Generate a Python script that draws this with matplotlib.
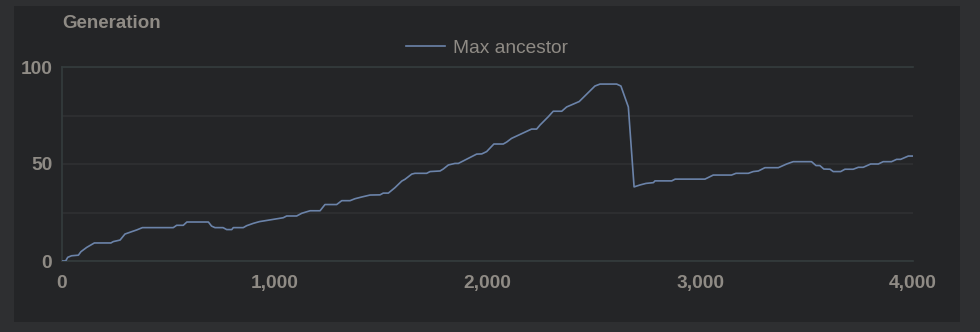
import matplotlib
matplotlib.use("Agg")
import matplotlib.pyplot as plt
from matplotlib.patches import Rectangle
from matplotlib.ticker import FuncFormatter, MultipleLocator

# ---- data ----
steps = [0, 17, 27, 45, 77, 89, 116, 152, 230, 241, 273, 296, 327, 351, 378,
         523, 539, 570, 587, 688, 703, 719, 757, 774, 798, 805, 852, 868, 899,
         928, 962, 1001, 1040, 1056, 1103, 1127, 1166, 1213, 1236, 1291, 1315,
         1354, 1377, 1409, 1448, 1495, 1510, 1534, 1565, 1597, 1612, 1644, 1659,
         1714, 1730, 1777, 1792, 1816, 1847, 1863, 1949, 1973, 1996, 2030, 2074,
         2090, 2113, 2207, 2231, 2247, 2286, 2309, 2349, 2372, 2431, 2505, 2529,
         2607, 2627, 2662, 2689, 2717, 2745, 2780, 2787, 2866, 2882, 3022, 3061,
         3147, 3168, 3226, 3249, 3273, 3304, 3367, 3406, 3437, 3523, 3544, 3562,
         3581, 3610, 3625, 3660, 3680, 3719, 3743, 3766, 3801, 3837, 3860, 3899,
         3923, 3942, 3978, 4001]
max_ancestor = [0, 0, 1.9, 2.7, 3, 4.8, 7, 9.3, 9.3, 10, 10.8, 13.9, 15.1, 16,
                17.2, 17.2, 18.4, 18.4, 20.1, 20.1, 18, 17.2, 17.2, 16.2, 16.2,
                17.2, 17.2, 18.2, 19.4, 20.3, 20.9, 21.6, 22.3, 23.2, 23.2, 24.6,
                25.9, 25.9, 29.1, 29.1, 31.1, 31.1, 32.1, 33, 34, 34.1, 35, 35,
                37.8, 41.2, 42.1, 44.8, 45.2, 45.2, 46.1, 46.4, 47.4, 49.5, 50.3,
                50.3, 55.1, 55.2, 56.4, 60.3, 60.3, 61.3, 63.2, 68, 68, 70.1, 74.4,
                77.2, 77.2, 79.4, 82.2, 90.2, 91.2, 91.2, 90.2, 79.4, 38.2, 39.2,
                40, 40.4, 41.3, 41.3, 42.2, 42.2, 44.3, 44.3, 45.2, 45.2, 46.1,
                46.4, 48.1, 48.1, 50, 51.2, 51.2, 49.2, 49.2, 47.4, 47.3, 46.1,
                46.1, 47.3, 47.3, 48.3, 48.3, 50, 50, 51.2, 51.2, 52.4, 52.4, 54.1,
                54.1]
series_label = "Max ancestor"
y_title = "Generation"
x_ticks = [0, 1000, 2000, 3000, 4000]
y_ticks = [0, 50, 100]

# ---- style ----
plt.rcParams['font.family'] = ['Liberation Sans', 'DejaVu Sans']
outer_bg = "#2e2f31"
panel_bg = "#242527"
text_col = "#8f8b85"
line_col = "#6b83a9"
grid_col = "#2f3133"
axis_col = "#343c3d"

W, H = 980, 332
fig = plt.figure(figsize=(W / 100, H / 100), dpi=100)
fig.patch.set_facecolor(outer_bg)
fig.patches.append(Rectangle((14 / W, 1 - 322 / H), (960 - 14) / W, (322 - 6) / H,
                             transform=fig.transFigure, facecolor=panel_bg,
                             edgecolor="none", zorder=-10))

ax = fig.add_axes([62 / W, 1 - 261 / H, (913 - 62) / W, (261 - 67) / H])
ax.set_facecolor("none")
ax.plot(steps, max_ancestor, color=line_col, lw=1.2, label=series_label,
        solid_joinstyle="round", zorder=3)

ax.set_xlim(0, 4000)
ax.set_ylim(0, 100)
ax.set_xticks(x_ticks)
ax.set_yticks(y_ticks)
ax.yaxis.set_minor_locator(MultipleLocator(25))
ax.xaxis.set_major_formatter(FuncFormatter(lambda v, p: f"{int(v):,}"))
ax.grid(True, axis="y", which="both", color=grid_col, lw=1.2)
ax.tick_params(axis="both", which="both", length=0, colors=text_col,
               labelsize=13.8)
ax.tick_params(axis="y", pad=7)
ax.tick_params(axis="x", pad=10)
for lab in ax.get_xticklabels() + ax.get_yticklabels():
    lab.set_fontweight("bold")
for s in ["right"]:
    ax.spines[s].set_visible(False)
for s in ["left", "bottom", "top"]:
    ax.spines[s].set_color(axis_col)
    ax.spines[s].set_linewidth(1.2)

fig.text(62 / W, 1 - 23 / H, y_title, color=text_col, fontsize=13.5,
         fontweight="bold", ha="left", va="center")

leg = ax.legend(loc="center", bbox_to_anchor=(487 / W, 1 - 48 / H),
                bbox_transform=fig.transFigure, frameon=False,
                fontsize=13.8, handlelength=2.0, handletextpad=0.42,
                borderaxespad=0, borderpad=0)
for t in leg.get_texts():
    t.set_color(text_col)

fig.savefig("out.png", dpi=100, facecolor=outer_bg)
